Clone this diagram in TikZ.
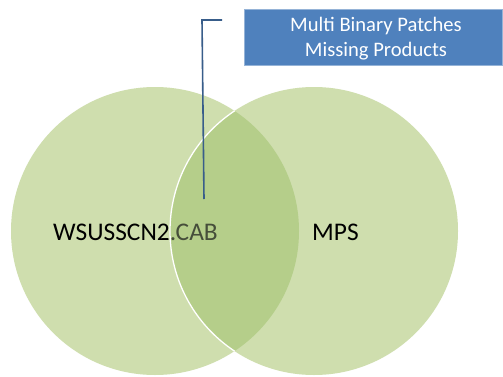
\documentclass[tikz,border=0pt]{standalone}
\usepackage{fontspec}
\setmainfont{Carlito}
\definecolor{vlight}{RGB}{207,222,174}
\definecolor{vlens}{RGB}{181,206,138}
\definecolor{boxblue}{RGB}{79,129,189}
\definecolor{linkblue}{RGB}{56,93,138}
\definecolor{cabgrey}{RGB}{70,78,58}
\tikzset{
  vcircle/.style={fill=vlight, draw=none},
  calloutbox/.style={fill=boxblue, draw=boxblue!60!white, line width=0.8pt, minimum width=258pt, minimum height=56pt, inner sep=0pt, align=center, text=white},
  boxtext/.style={inner sep=0pt, align=center, text=white, font=\fontsize{20.6}{25}\selectfont},
  vlabel/.style={font=\fontsize{25.4}{30}\selectfont, inner sep=0pt},
  link/.style={draw=linkblue, line width=1.6pt}
}
\begin{document}
\begin{tikzpicture}[x=1pt,y=1pt]
\useasboundingbox (0,0) rectangle (503,376);
\fill[white] (0,0) rectangle (503,376);
% circles
\path[vcircle] (155,145) circle (144);
\path[vcircle] (314,145) circle (144);
\begin{scope}
  \clip (155,145) circle (144);
  \fill[vlens] (314,145) circle (144);
  \draw[white, line width=1.3pt] (314,145) circle (144);
\end{scope}
% callout box
\node[calloutbox] (box) at (373,339) {};
\node[boxtext] (boxlabel) at (376,337) {Multi Binary Patches\\Missing Products};
% connector
\coordinate (tip) at (204,177);
\coordinate (corner) at (202,356);
\coordinate (cend) at (222,356);
\draw[link] (tip) -- (corner) -- (cend);
% labels
\node[vlabel, anchor=base west] (wsus) at (53,136) {WSUSSCN2\textcolor{cabgrey}{.CAB}};
\node[vlabel, anchor=base west] (mps) at (312,136) {MPS};
\end{tikzpicture}
\end{document}
